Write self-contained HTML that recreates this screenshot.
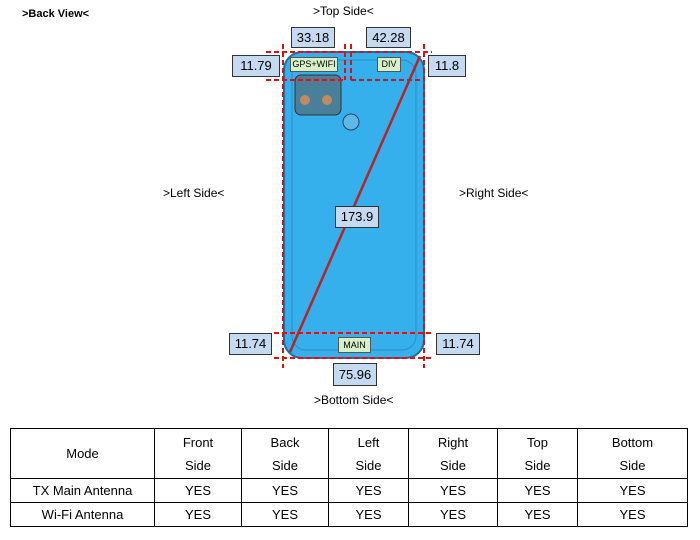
<!DOCTYPE html>
<html><head><meta charset="utf-8"><style>
body{margin:0;width:700px;height:540px;background:#fff;position:relative;font-family:"Liberation Sans",Arial,sans-serif;overflow:hidden}
.t{position:absolute;font-size:12px;color:#000;white-space:nowrap}
.b{position:absolute;background:#c5d9f1;border:1px solid #333;font-size:13px;text-align:center;box-sizing:border-box}
.g{position:absolute;background:#d8f0c8;border:1px solid #555;font-size:9px;text-align:center;box-sizing:border-box}
table{position:absolute;left:10px;top:428px;width:678px;border-collapse:collapse;font-size:13px}
td{border:1px solid #000;text-align:center;padding:0}
</style></head><body>
<div class="t" style="left:22px;top:8px;font-weight:bold;font-size:11px">&gt;Back View&lt;</div>
<div class="t" style="left:313px;top:4px">&gt;Top Side&lt;</div>
<div class="t" style="left:163px;top:186px">&gt;Left Side&lt;</div>
<div class="t" style="left:459px;top:186px">&gt;Right Side&lt;</div>
<div class="t" style="left:314px;top:393px">&gt;Bottom Side&lt;</div>
<svg width="700" height="420" style="position:absolute;left:0;top:0">
<rect x="284" y="52" width="140" height="306" rx="18" fill="#36b0ec" stroke="#1b6fa8" stroke-width="2"/>
<rect x="292" y="60" width="124" height="290" rx="14" fill="none" stroke="#2b8cc8" stroke-width="1"/>
<rect x="295" y="75" width="46" height="40" rx="6" fill="#4a7f99" stroke="#333"/>
<circle cx="305" cy="100" r="5" fill="#c08a60"/><circle cx="327" cy="100" r="5" fill="#c08a60"/>
<circle cx="351" cy="122" r="8" fill="#5eb8e8" stroke="#246"/>
<g stroke="#d11" stroke-width="2" stroke-dasharray="5,3" fill="none">
<line x1="283" y1="44" x2="283" y2="368"/><line x1="424" y1="44" x2="424" y2="368"/>
<line x1="266" y1="52" x2="345" y2="52"/><line x1="266" y1="80" x2="345" y2="80"/>
<line x1="345" y1="44" x2="345" y2="80"/><line x1="351" y1="44" x2="351" y2="80"/>
<line x1="351" y1="52" x2="432" y2="52"/><line x1="351" y1="80" x2="424" y2="80"/>
<line x1="274" y1="333" x2="432" y2="333"/><line x1="274" y1="358" x2="432" y2="358"/>
</g>
<line x1="290" y1="352" x2="420" y2="56" stroke="#b22" stroke-width="2.5"/>
</svg>
<div class="b" style="left:291px;top:27px;width:44px;height:21px;line-height:19px">33.18</div>
<div class="b" style="left:366px;top:27px;width:45px;height:21px;line-height:19px">42.28</div>
<div class="b" style="left:232px;top:55px;width:48px;height:22px;line-height:20px">11.79</div>
<div class="b" style="left:428px;top:55px;width:38px;height:22px;line-height:20px">11.8</div>
<div class="g" style="left:290px;top:57px;width:48px;height:15px;line-height:13px">GPS+WIFI</div>
<div class="g" style="left:377px;top:57px;width:24px;height:15px;line-height:13px">DIV</div>
<div class="b" style="left:335px;top:206px;width:44px;height:22px;line-height:20px">173.9</div>
<div class="g" style="left:338px;top:337px;width:33px;height:16px;line-height:14px">MAIN</div>
<div class="b" style="left:229px;top:333px;width:43px;height:22px;line-height:20px">11.74</div>
<div class="b" style="left:436px;top:333px;width:44px;height:22px;line-height:20px">11.74</div>
<div class="b" style="left:333px;top:363px;width:44px;height:23px;line-height:21px">75.96</div>
<table>
<tr style="height:50px"><td style="width:143px">Mode</td><td style="width:86px;line-height:23px">Front<br>Side</td><td style="width:86px;line-height:23px">Back<br>Side</td><td style="width:79px;line-height:23px">Left<br>Side</td><td style="width:88px;line-height:23px">Right<br>Side</td><td style="width:79px;line-height:23px">Top<br>Side</td><td style="line-height:23px">Bottom<br>Side</td></tr>
<tr style="height:24px"><td>TX Main Antenna</td><td>YES</td><td>YES</td><td>YES</td><td>YES</td><td>YES</td><td>YES</td></tr>
<tr style="height:24px"><td>Wi-Fi Antenna</td><td>YES</td><td>YES</td><td>YES</td><td>YES</td><td>YES</td><td>YES</td></tr>
</table>
</body></html>
